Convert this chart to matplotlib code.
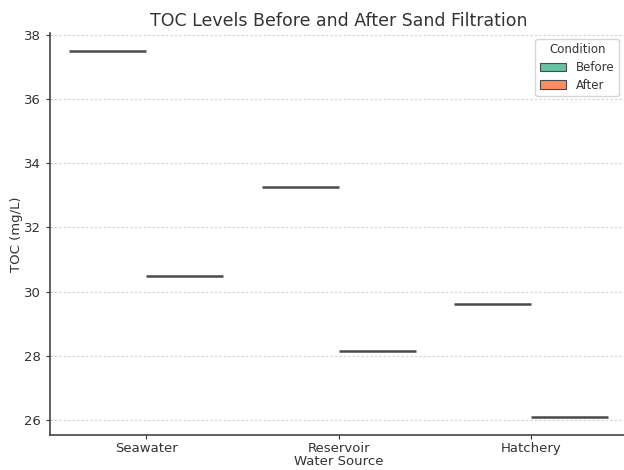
import matplotlib
matplotlib.use("Agg")
import matplotlib.pyplot as plt
from matplotlib.patches import Patch

sources = ["Seawater", "Reservoir", "Hatchery"]
toc_before = [37.5, 33.25, 29.6]
toc_after = [30.5, 28.15, 26.1]
conditions = ["Before", "After"]
colors = ["#66c2a5", "#fc8d62"]
line_color = "#4a4a4a"
text_color = "#333333"

fig = plt.figure(figsize=(6.24, 4.70), dpi=100)
ax = fig.add_axes([0.080, 0.0745, 0.926, 0.856])

for i, (b, a) in enumerate(zip(toc_before, toc_after)):
    ax.hlines(b, i - 0.4, i, color=line_color, lw=1.8)
    ax.hlines(a, i, i + 0.4, color=line_color, lw=1.8)

ax.set_xlim(-0.5, 2.5)
ax.set_ylim(25.53, 38.07)
ax.set_xticks(range(len(sources)))
ax.set_xticklabels(sources)
ax.set_yticks([26, 28, 30, 32, 34, 36, 38])
ax.tick_params(colors=text_color, labelsize=9.5, length=3)
ax.tick_params(axis="x", pad=2)
ax.grid(axis="y", color="#d0d0d0", linestyle=(0, (2, 2)), linewidth=0.8)
ax.set_axisbelow(True)
for s in ["top", "right"]:
    ax.spines[s].set_visible(False)
for s in ["left", "bottom"]:
    ax.spines[s].set_color("#444444")
    ax.spines[s].set_linewidth(1.2)

ax.set_xlabel("Water Source", color=text_color, fontsize=9.5, labelpad=0)
ax.set_ylabel("TOC (mg/L)", color=text_color, fontsize=9.5, labelpad=1)
ax.set_title("TOC Levels Before and After Sand Filtration", color=text_color, fontsize=12.5, pad=5)

handles = [Patch(facecolor=c, edgecolor=line_color, linewidth=0.8, label=l) for c, l in zip(colors, conditions)]
leg = ax.legend(handles=handles, title="Condition", loc="upper right", fontsize=8.5,
                title_fontsize=8.5, frameon=True, bbox_to_anchor=(0.995, 1.0),
                handlelength=2.2, labelspacing=0.4)
leg.get_frame().set_edgecolor("#cccccc")
for t in leg.get_texts():
    t.set_color(text_color)
leg.get_title().set_color(text_color)

fig.savefig("out.png", dpi=100)
